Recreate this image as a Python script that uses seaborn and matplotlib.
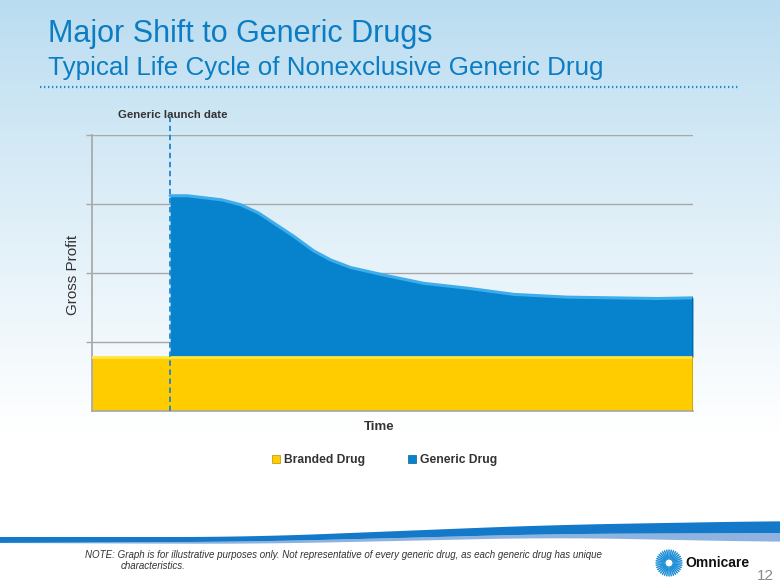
import numpy as np
import pandas as pd
import matplotlib
matplotlib.use("Agg")
import matplotlib.pyplot as plt
import seaborn as sns
from matplotlib.lines import Line2D
from matplotlib.patches import Polygon, Circle

# ---- data ----
launch_time = 13.0
branded_time = [0, 100]
branded_values = [0.78, 0.78]
generic_time = [13, 15.8, 21.6, 24.7, 27.7, 33.6, 36.9, 39.7, 43, 48.6, 55.2, 62.5, 70.2, 79.1, 94.1, 100]
generic_values = [2.34, 2.34, 2.28, 2.21, 2.09, 1.75, 1.54, 1.41, 1.30, 1.19, 1.07, 1.00, 0.91, 0.87, 0.85, 0.86]
grid_levels = [1, 2, 3, 4]
series_labels = ["Branded Drug", "Generic Drug"]

title = "Major Shift to Generic Drugs"
subtitle = "Typical Life Cycle of Nonexclusive Generic Drug"
note1 = "NOTE: Graph is for illustrative purposes only. Not representative of every generic drug, as each generic drug has unique"
note2 = "characteristics."

YELLOW = "#FFCC00"
BLUE = "#0683CC"
BLUE_EDGE = "#3DADEB"
TITLE_BLUE = "#0C7DC2"
TEXT = "#333333"

sns.set_theme(style="white")
plt.rcParams['font.family'] = ['Liberation Sans', 'DejaVu Sans']

fig = plt.figure(figsize=(7.8, 5.85), dpi=100)

# background gradient
bg = fig.add_axes([0, 0, 1, 1], zorder=-10)
grad = np.ones((585, 1, 3))
top = np.array([0xB9, 0xDC, 0xF0]) / 255.0
for i in range(585):
    f = min(i / 430.0, 1.0)
    f = f ** 0.9
    grad[i, 0, :] = top * (1 - f) + np.array([1.0, 1.0, 1.0]) * f
bg.imshow(grad, aspect='auto', extent=[0, 780, 585, 0])
bg.set_xlim(0, 780)
bg.set_ylim(585, 0)
bg.axis('off')

# swoosh at bottom (decoration)
xs = np.linspace(0, 780, 157)
kx = [0, 250, 400, 550, 780]


def smooth_edge(vals, k=31):
    y = np.interp(xs, kx, vals)
    pad = k // 2
    yp = np.r_[np.full(pad, y[0]), y, np.full(pad, y[-1])]
    return np.convolve(yp, np.ones(k) / k, mode='valid')


dark_top = smooth_edge([537, 537, 531, 525, 521])
dark_bot = smooth_edge([543, 541.7, 538, 534, 533])
light_bot = smooth_edge([543, 544, 541, 537.5, 542])
bg.add_patch(Polygon(np.column_stack([np.r_[xs, xs[::-1]], np.r_[dark_bot, light_bot[::-1]]]),
                     closed=True, fc="#8FB3E0", ec='none'))
bg.add_patch(Polygon(np.column_stack([np.r_[xs, xs[::-1]], np.r_[dark_top, dark_bot[::-1]]]),
                     closed=True, fc="#1479C9", ec='none'))

# dotted rule under title
bg.plot([40, 740], [87, 87], color="#1A8AD0", lw=1.6, ls=(0, (0.6, 1.2)))

# logo
cx, cy = 669, 563
for ang in np.linspace(0, 2 * np.pi, 36, endpoint=False):
    bg.plot([cx + 5 * np.cos(ang), cx + 13 * np.cos(ang)],
            [cy + 5 * np.sin(ang), cy + 13 * np.sin(ang)], color="#1E8FD6", lw=1.1)
bg.add_patch(Circle((cx, cy), 4, fc="white", ec="#1E8FD6", lw=0.8))

# ---- main chart ----
ax = fig.add_axes([92 / 780, 1 - 411 / 585, 601 / 780, 276 / 585])
ax.patch.set_alpha(0)

gt = np.array(generic_time)
gv = np.array(generic_values)
bt = np.array(branded_time)
bv = np.array(branded_values)
ax.fill_between(bt, 0, bv, color=YELLOW, zorder=2, lw=0)
ax.fill_between(gt, bv[0], bv[0] + gv, color=BLUE, zorder=2, lw=0)

df_top = pd.DataFrame({"time": gt, "total": bv[0] + gv})
sns.lineplot(data=df_top, x="time", y="total", ax=ax, color=BLUE_EDGE, lw=2.2, zorder=3, legend=False)
ax.plot(bt, bv, color="#FFE640", lw=2, zorder=3)
ax.plot([gt[-1], gt[-1]], [bv[0], bv[0] + gv[-1]], color="#0A5E96", lw=1.2, zorder=3)
ax.plot([bt[-1], bt[-1]], [0, bv[0]], color="#C9A000", lw=1.2, zorder=3)

for g in grid_levels:
    ax.axhline(g, color="#A8A8A8", lw=1, zorder=1)

ax.axvline(launch_time, ymin=0, ymax=1.06, color="#1C86D0", lw=1.3, ls=(0, (3, 2)), zorder=4, clip_on=False)

ax.set_xlim(0, 100)
ax.set_ylim(0, 4)
ax.set_yticks(grid_levels)
ax.set_yticklabels([])
ax.set_xticks([])
ax.tick_params(axis='y', length=4, color="#A8A8A8", width=1, left=True)
for s in ["top", "right"]:
    ax.spines[s].set_visible(False)
ax.spines["left"].set_color("#A8A8A8")
ax.spines["bottom"].set_color("#A8A8A8")
ax.set_xlabel("")
ax.set_ylabel("")

fig.text(118 / 780, 1 - 115 / 585, "Generic launch date", fontsize=8.2, fontweight='bold',
         color=TEXT, va='center', ha='left', family=['Liberation Sans Narrow', 'Liberation Sans'])
fig.text(73 / 780, 1 - 275 / 585, "Gross Profit", fontsize=11, rotation=90, color=TEXT,
         va='center', ha='center')
fig.text(379 / 780, 1 - 427 / 585, "Time", fontsize=9.5, fontweight='bold', color=TEXT,
         va='center', ha='center')

handles = [Line2D([], [], ls='none', marker='s', ms=5.5, mfc=YELLOW, mec="#B89000", mew=0.5),
           Line2D([], [], ls='none', marker='s', ms=5.5, mfc=BLUE, mec="#0A5E96", mew=0.5)]
leg = fig.legend(handles, series_labels, loc='center', bbox_to_anchor=(385 / 780, 1 - 460 / 585),
                 ncol=2, frameon=False, handlelength=0.6, handletextpad=0.35, columnspacing=3.6,
                 prop={'size': 8.7, 'weight': 'bold', 'family': ['Liberation Sans Narrow', 'Liberation Sans']})
for t in leg.get_texts():
    t.set_color(TEXT)

# titles
fig.text(48 / 780, 1 - 42.3 / 585, title, fontsize=22, color=TITLE_BLUE, va='baseline', ha='left')
fig.text(48 / 780, 1 - 75 / 585, subtitle, fontsize=18.7, color=TITLE_BLUE, va='baseline', ha='left')

# footer
fig.text(85 / 780, 1 - 555 / 585, note1, fontsize=7, style='italic', color="#333333", va='center')
fig.text(121 / 780, 1 - 566 / 585, note2, fontsize=7, style='italic', color="#333333", va='center')
fig.text(685 / 780, 1 - 563 / 585, "Omnicare", fontsize=10, fontweight='bold', color="#111111", va='center')
fig.text(765 / 780, 1 - 576 / 585, "12", fontsize=11, color="#8A8A8A", va='center', ha='center')

fig.savefig("out.png", dpi=100)
